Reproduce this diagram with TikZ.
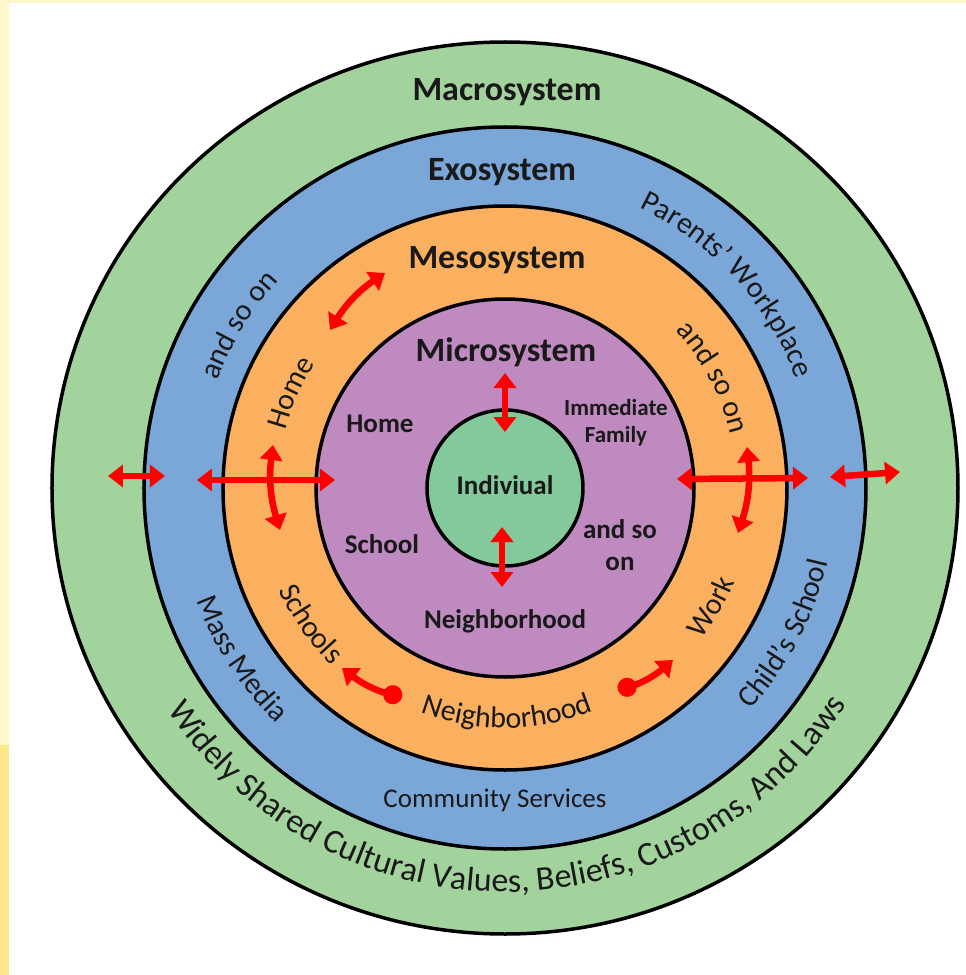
\documentclass[tikz,border=0pt]{standalone}
\usepackage{fontspec}
\setmainfont{Carlito}
\usetikzlibrary{arrows.meta,decorations.text}
\definecolor{macroC}{RGB}{163,211,156}
\definecolor{exoC}{RGB}{123,167,216}
\definecolor{mesoC}{RGB}{251,176,96}
\definecolor{microC}{RGB}{190,138,191}
\definecolor{indivC}{RGB}{131,201,155}
\definecolor{stripC}{RGB}{255,246,204}
\definecolor{stripD}{RGB}{255,232,140}
\definecolor{txtC}{RGB}{25,25,25}
\definecolor{arrC}{RGB}{255,0,0}
\newcommand\ttlfont{\fontsize{34}{40}\selectfont\bfseries}
\newcommand\lblfont{\fontsize{27}{32}\selectfont\bfseries}
\newcommand\smlfont{\fontsize{23}{27}\selectfont\bfseries}
\newcommand\cmfont{\fontsize{27}{32}\selectfont}
\newcommand\arcfont{\fontsize{30}{34}\selectfont\color{txtC}}
\newcommand\bigarcfont{\fontsize{34}{38}\selectfont\color{txtC}}
% radius, start angle, end angle, font, text
\newcommand\ringtext[5]{%
  \path[decorate,decoration={text along path,text={|#4|#5},text align=center}]
    (#2:#1pt) arc[start angle=#2,end angle=#3,radius=#1pt];}
\tikzset{rhead/.tip={Triangle[length=15pt,width=22pt]},
         rblob/.tip={Circle[length=19pt,width=19pt]}}
\begin{document}
\begin{tikzpicture}[x=1pt,y=1pt,
  ring/.style={draw=black,line width=3.5pt},
  ttl/.style={font=\ttlfont,anchor=base,inner sep=0pt,text=txtC},
  lbl/.style={font=\lblfont,anchor=base,inner sep=0pt,text=txtC},
  sml/.style={font=\smlfont,anchor=base,inner sep=0pt,text=txtC},
  cml/.style={font=\cmfont,anchor=base,inner sep=0pt,text=txtC},
  rarr/.style={draw=arrC,line width=6.5pt}]
\useasboundingbox (-505,-487) rectangle (461,488);
\fill[white] (-505,-487) rectangle (461,488);
\fill[stripC] (-505,-487) rectangle (-496,488);
\fill[stripC] (-505,485) rectangle (461,488);
\fill[stripD] (-505,-487) rectangle (-496,-257);

% rings
\draw[ring,fill=macroC] (0,0) ellipse[x radius=453pt,y radius=446pt];
\draw[ring,fill=exoC] (0,0) circle[radius=361pt];
\draw[ring,fill=mesoC] (0,0) circle[radius=282pt];
\draw[ring,fill=microC] (0,0) circle[radius=189pt];
\draw[ring,fill=indivC] (0,0) circle[radius=78pt];

% titles
\node[ttl] (macro) at (2,387) {Macrosystem};
\node[ttl] (exo) at (-3,307) {Exosystem};
\node[ttl] (meso) at (-8,219) {Mesosystem};
\node[ttl] (micro) at (1,127) {Microsystem};

% microsystem labels
\node[lbl] (mhome) at (-125,56) {Home};
\node[sml] (imm) at (111,73) {Immediate};
\node[sml] (fam) at (111,46) {Family};
\node[lbl] (indiv) at (0,-6) {Indiviual};
\node[lbl] (mschool) at (-123,-65) {School};
\node[lbl] (andso) at (115,-50) {and so};
\node[lbl] (on) at (115,-82) {on};
\node[lbl] (mneigh) at (0,-140) {Neighborhood};
\node[cml] (comm) at (-10,-319) {Community Services};

% curved texts
\ringtext{404}{200}{341}{\bigarcfont}{Widely Shared Cultural Values, Beliefs, Customs, And Laws}
\ringtext{311}{77}{8}{\arcfont}{Parents’ Workplace}
\ringtext{307}{175}{122}{\arcfont}{and so on}
\ringtext{328}{185}{241}{\arcfont}{Mass Media}
\ringtext{331}{302}{363}{\arcfont}{Child’s School}
\ringtext{227}{185}{127}{\arcfont}{Home}
\ringtext{232}{58}{-2}{\arcfont}{and so on}
\ringtext{248}{185}{245}{\arcfont}{Schools}
\ringtext{240}{235}{306}{\arcfont}{Neighborhood}
\ringtext{248}{300}{360}{\arcfont}{Work}

% arrow end points
\coordinate (l1a) at (-397,12);  \coordinate (l1b) at (-340,12);
\coordinate (l2a) at (-308,8);   \coordinate (l2b) at (-170,8);
\coordinate (lva) at (-232,43);  \coordinate (lvb) at (-225,-42);
\coordinate (r2a) at (172,9);    \coordinate (r2b) at (303,10);
\coordinate (r1a) at (325,11);   \coordinate (r1b) at (395,16);
\coordinate (rva) at (242,41);   \coordinate (rvb) at (233,-45);
\coordinate (tva) at (0,115);    \coordinate (tvb) at (0,56);
\coordinate (bva) at (-3,-39);   \coordinate (bvb) at (-3,-99);
\coordinate (tla) at (-175,158); \coordinate (tlb) at (-120,215);
\coordinate (bla) at (-163,-180);\coordinate (blb) at (-103,-209);
\coordinate (bra) at (113,-202); \coordinate (brb) at (168,-172);

% red arrows
\draw[rarr,rhead-rhead] (l1a) -- (l1b);
\draw[rarr,rhead-rhead] (l2a) -- (l2b);
\draw[rarr,rhead-rhead] (lva) to[bend right=12] (lvb);
\draw[rarr,rhead-rhead] (r2a) -- (r2b);
\draw[rarr,rhead-rhead] (r1a) -- (r1b);
\draw[rarr,rhead-rhead] (rva) to[bend left=12] (rvb);
\draw[rarr,rhead-rhead] (tva) -- (tvb);
\draw[rarr,rhead-rhead] (bva) -- (bvb);
\draw[rarr,rhead-rhead] (tla) to[bend left=12] (tlb);
\draw[rarr,rhead-rblob] (bla) to[bend right=12] (blb);
\draw[rarr,rblob-rhead] (bra) to[bend right=12] (brb);
\end{tikzpicture}
\end{document}
